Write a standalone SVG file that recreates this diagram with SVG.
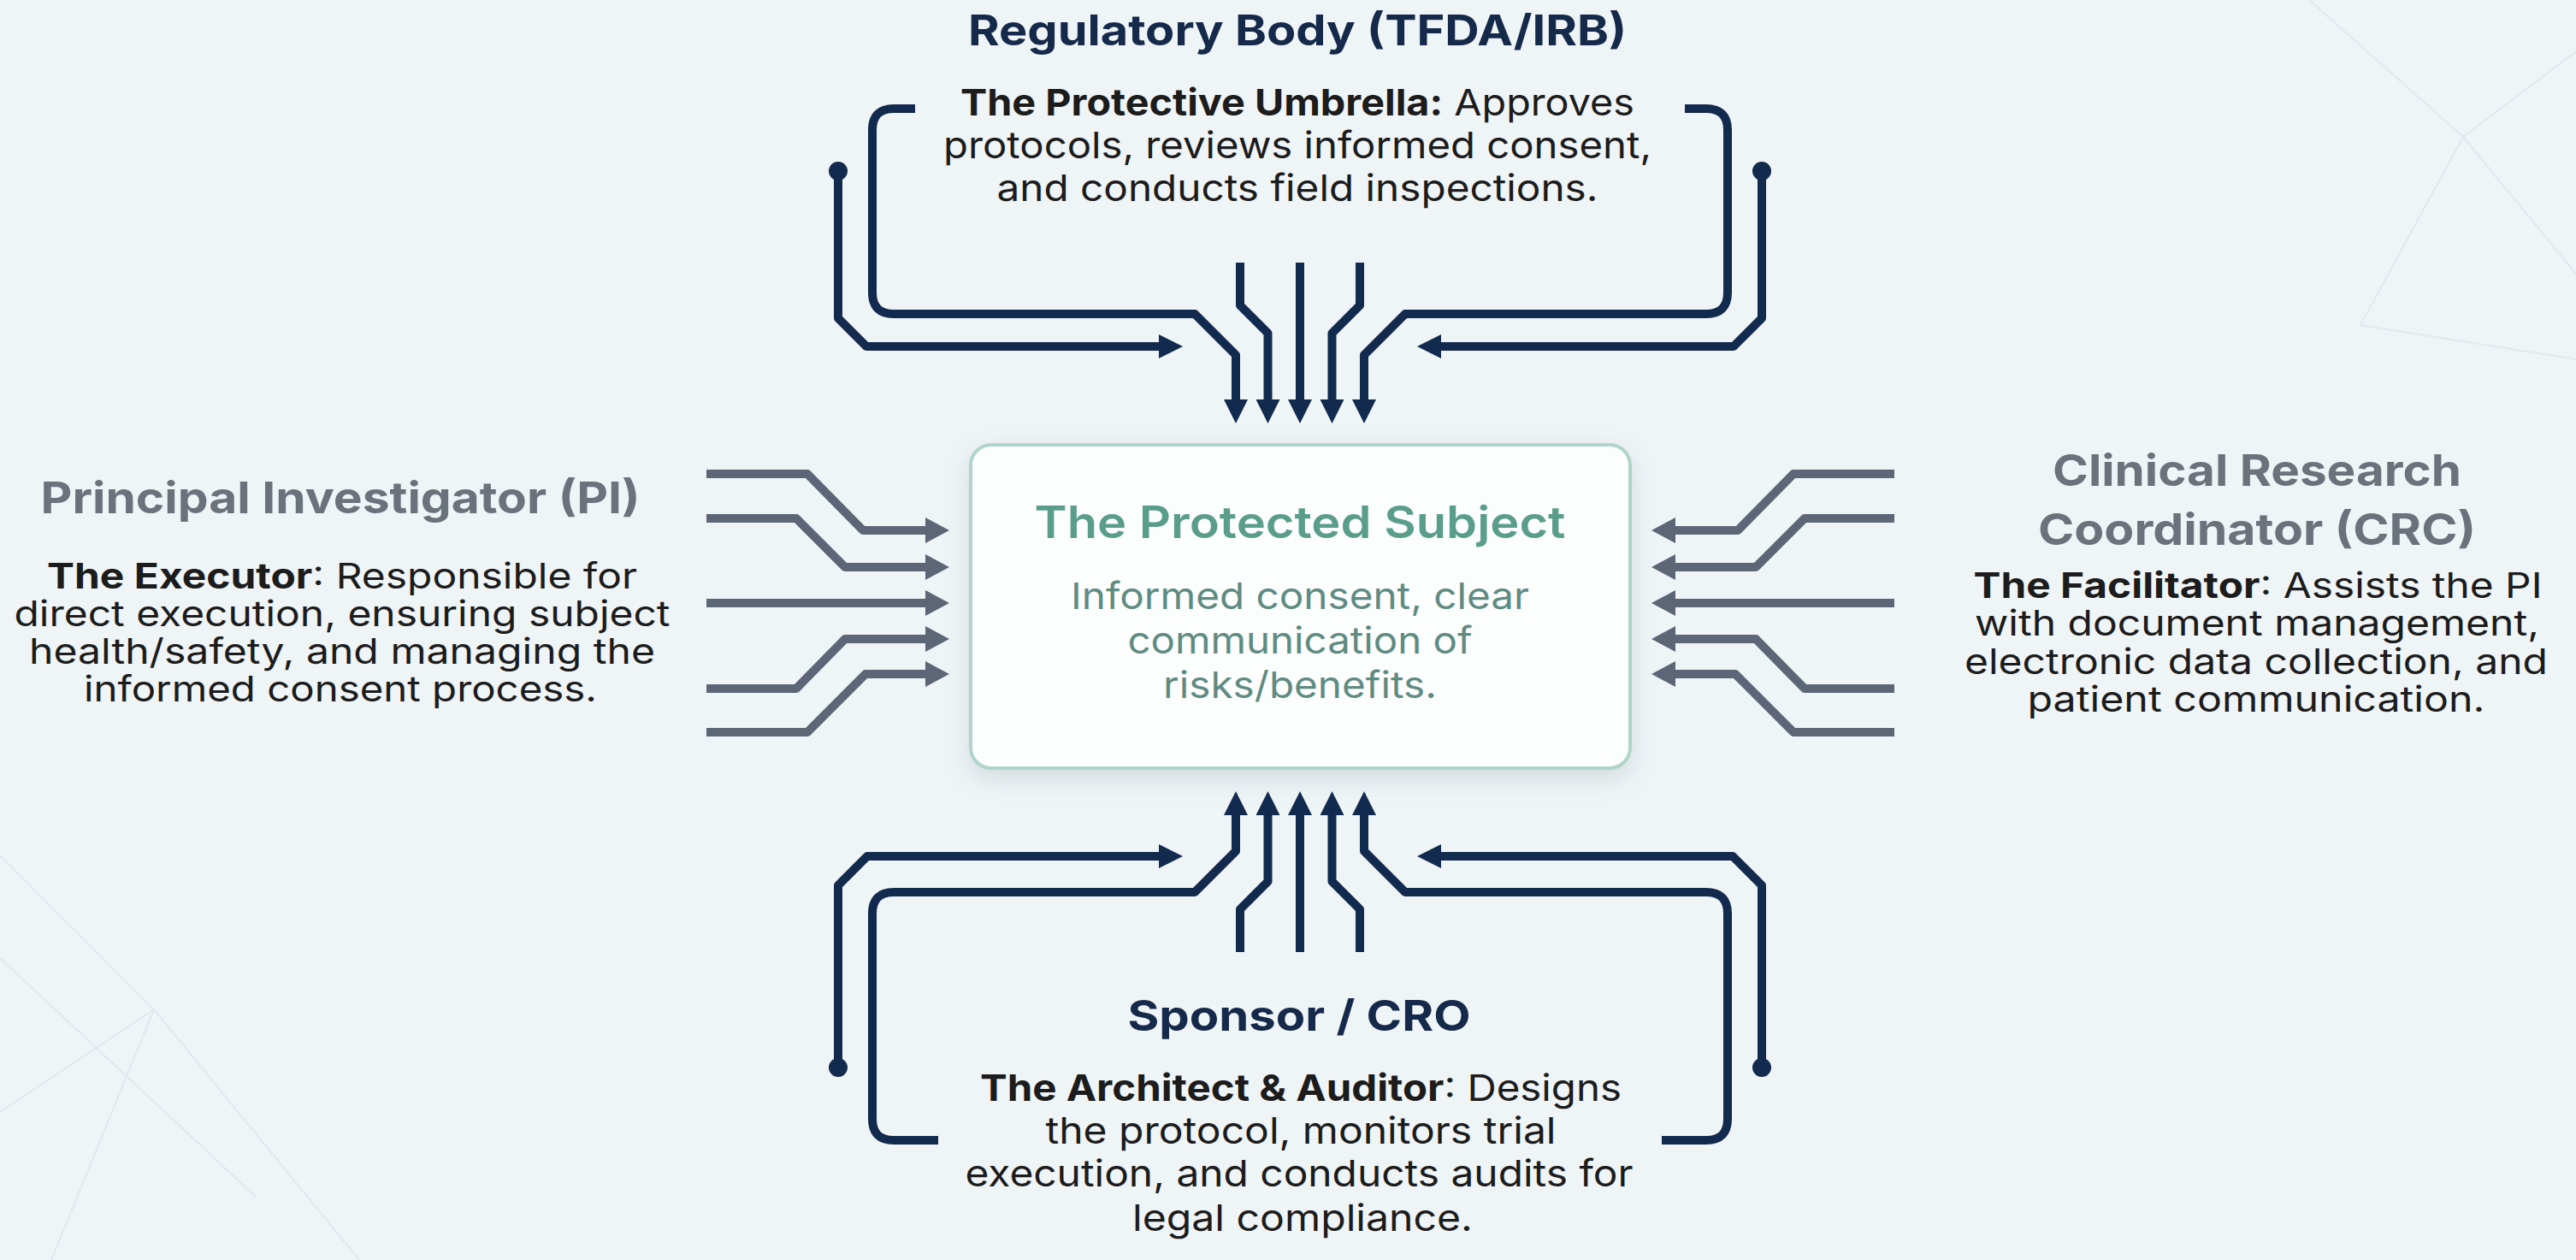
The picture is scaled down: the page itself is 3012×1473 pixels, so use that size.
<svg xmlns="http://www.w3.org/2000/svg" width="3012" height="1473" viewBox="0 0 3012 1473">
<defs>
<style>
.t{font-family:Inter,"Liberation Sans",sans-serif;text-anchor:middle}
.tn{font-weight:700;font-size:50px;fill:#15294a}
.tg{font-weight:700;font-size:51px;fill:#6a727c}
.d{font-weight:400;font-size:43px;fill:#1c1c1c}
.ds{font-weight:400;font-size:41px;fill:#1c1c1c}
.b{font-weight:700}
.bt{font-weight:600;font-size:52px;fill:#5b9d8b}
.bd{font-weight:400;font-size:43px;fill:#5f8b82}
.nv{fill:none;stroke:#122a4e;stroke-width:10;stroke-linejoin:round}
.gr{fill:none;stroke:#5c6676;stroke-width:10;stroke-linejoin:round}
.bg{fill:none;stroke:#e1e8ee;stroke-width:2}
</style>
<marker id="an" markerUnits="userSpaceOnUse" markerWidth="30" markerHeight="30" refX="1" refY="14" orient="auto" viewBox="0 0 30 28">
<path d="M0,0 L28,14 L0,28 z" fill="#122a4e"/>
</marker>
<marker id="ag" markerUnits="userSpaceOnUse" markerWidth="30" markerHeight="32" refX="1" refY="15" orient="auto" viewBox="0 0 30 30">
<path d="M0,0 L28,15 L0,30 z" fill="#5c6676"/>
</marker>
<filter id="sh" x="-20%" y="-20%" width="140%" height="150%">
<feDropShadow dx="0" dy="10" stdDeviation="14" flood-color="#7f9a9a" flood-opacity="0.28"/>
</filter>
</defs>
<rect width="3012" height="1473" fill="#eff4f7"/>
<g id="background">
<path class="bg" d="M0 1000 L180 1180 L0 1300 M180 1180 L420 1473 M180 1180 L60 1473 M0 1120 L300 1400"/>
<path class="bg" d="M2700 0 L2880 160 L3012 60 M2880 160 L3012 320 M2880 160 L2760 380 L3012 420"/>
</g>
<g id="connectors">
<!-- top -->
<path class="nv" d="M1070 127 H1045 Q1020 127 1020 152 V342 Q1020 367 1045 367 H1397 L1445 415 V468" marker-end="url(#an)"/>
<path class="nv" d="M980 200 V372 L1013 405 H1356" marker-end="url(#an)"/>
<path class="nv" d="M1450 307 V357 L1482.5 389.5 V468" marker-end="url(#an)"/>
<path class="nv" d="M1520 307 V468" marker-end="url(#an)"/>
<path class="nv" d="M1590 307 V357 L1557.5 389.5 V468" marker-end="url(#an)"/>
<path class="nv" d="M1970 127 H1995 Q2020 127 2020 152 V342 Q2020 367 1995 367 H1643 L1595 415 V468" marker-end="url(#an)"/>
<path class="nv" d="M2060 200 V372 L2027 405 H1684" marker-end="url(#an)"/>
<circle cx="980" cy="200" r="11" fill="#122a4e"/>
<circle cx="2060" cy="200" r="11" fill="#122a4e"/>
<!-- bottom -->
<path class="nv" d="M1097 1333 H1045 Q1020 1333 1020 1308 V1068 Q1020 1043 1045 1043 H1397 L1445 995 V952" marker-end="url(#an)"/>
<path class="nv" d="M980 1248 V1035 L1014 1001 H1356" marker-end="url(#an)"/>
<path class="nv" d="M1450 1113 V1063 L1482.5 1030.5 V952" marker-end="url(#an)"/>
<path class="nv" d="M1520 1113 V952" marker-end="url(#an)"/>
<path class="nv" d="M1590 1113 V1063 L1557.5 1030.5 V952" marker-end="url(#an)"/>
<path class="nv" d="M1943 1333 H1995 Q2020 1333 2020 1308 V1068 Q2020 1043 1995 1043 H1643 L1595 995 V952" marker-end="url(#an)"/>
<path class="nv" d="M2060 1248 V1035 L2026 1001 H1684" marker-end="url(#an)"/>
<circle cx="980" cy="1248" r="11" fill="#122a4e"/>
<circle cx="2060" cy="1248" r="11" fill="#122a4e"/>
<!-- left PI -->
<path class="gr" d="M826 554 H944 L1009 620 H1083" marker-end="url(#ag)"/>
<path class="gr" d="M826 606 H931 L988 663 H1083" marker-end="url(#ag)"/>
<path class="gr" d="M826 705 H1083" marker-end="url(#ag)"/>
<path class="gr" d="M826 805 H931 L988 747 H1083" marker-end="url(#ag)"/>
<path class="gr" d="M826 856 H944 L1012 788 H1083" marker-end="url(#ag)"/>
<!-- right CRC -->
<path class="gr" d="M2215 554 H2097 L2032 620 H1958" marker-end="url(#ag)"/>
<path class="gr" d="M2215 606 H2110 L2053 663 H1958" marker-end="url(#ag)"/>
<path class="gr" d="M2215 705 H1958" marker-end="url(#ag)"/>
<path class="gr" d="M2215 805 H2110 L2053 747 H1958" marker-end="url(#ag)"/>
<path class="gr" d="M2215 856 H2097 L2029 788 H1958" marker-end="url(#ag)"/>
</g>
<g id="subject">
<rect x="1135" y="520" width="771" height="378" rx="24" fill="#fcfefe" stroke="#b0d4ca" stroke-width="4" filter="url(#sh)"/>
<text class="t bt" x="1520" y="629" textLength="621" lengthAdjust="spacingAndGlyphs">The Protected Subject</text>
<text class="t bd" x="1520" y="712" textLength="536" lengthAdjust="spacingAndGlyphs">Informed consent, clear</text>
<text class="t bd" x="1520" y="764" textLength="403" lengthAdjust="spacingAndGlyphs">communication of</text>
<text class="t bd" x="1520" y="816" textLength="320" lengthAdjust="spacingAndGlyphs">risks/benefits.</text>
</g>
<g id="regulatory">
<text class="t tn" x="1517" y="53" textLength="770" lengthAdjust="spacingAndGlyphs">Regulatory Body (TFDA/IRB)</text>
<text class="t d" x="1517" y="135" textLength="788" lengthAdjust="spacingAndGlyphs"><tspan class="b">The Protective Umbrella:</tspan> Approves</text>
<text class="t d" x="1517" y="185" textLength="828" lengthAdjust="spacingAndGlyphs">protocols, reviews informed consent,</text>
<text class="t d" x="1517" y="235" textLength="703" lengthAdjust="spacingAndGlyphs">and conducts field inspections.</text>
</g>
<g id="pi">
<text class="t tg" x="398" y="600" textLength="701" lengthAdjust="spacingAndGlyphs">Principal Investigator (PI)</text>
<text class="t ds" x="400" y="688" textLength="690" lengthAdjust="spacingAndGlyphs"><tspan class="b">The Executor</tspan>: Responsible for</text>
<text class="t ds" x="400" y="732" textLength="767" lengthAdjust="spacingAndGlyphs">direct execution, ensuring subject</text>
<text class="t ds" x="400" y="776" textLength="732" lengthAdjust="spacingAndGlyphs">health/safety, and managing the</text>
<text class="t ds" x="398" y="820" textLength="600" lengthAdjust="spacingAndGlyphs">informed consent process.</text>
</g>
<g id="crc">
<text class="t tg" x="2639" y="568" textLength="478" lengthAdjust="spacingAndGlyphs">Clinical Research</text>
<text class="t tg" x="2639" y="637" textLength="512" lengthAdjust="spacingAndGlyphs">Coordinator (CRC)</text>
<text class="t ds" x="2640" y="699" textLength="665" lengthAdjust="spacingAndGlyphs"><tspan class="b">The Facilitator</tspan>: Assists the PI</text>
<text class="t ds" x="2639" y="743" textLength="660" lengthAdjust="spacingAndGlyphs">with document management,</text>
<text class="t ds" x="2638" y="788" textLength="682" lengthAdjust="spacingAndGlyphs">electronic data collection, and</text>
<text class="t ds" x="2638" y="832" textLength="535" lengthAdjust="spacingAndGlyphs">patient communication.</text>
</g>
<g id="sponsor">
<text class="t tn" x="1519" y="1205" textLength="401" lengthAdjust="spacingAndGlyphs">Sponsor / CRO</text>
<text class="t d" x="1521" y="1287" textLength="750" lengthAdjust="spacingAndGlyphs"><tspan class="b">The Architect &amp; Auditor</tspan>: Designs</text>
<text class="t d" x="1521" y="1337" textLength="597" lengthAdjust="spacingAndGlyphs">the protocol, monitors trial</text>
<text class="t d" x="1519" y="1387" textLength="781" lengthAdjust="spacingAndGlyphs">execution, and conducts audits for</text>
<text class="t d" x="1523" y="1439" textLength="398" lengthAdjust="spacingAndGlyphs">legal compliance.</text>
</g>
</svg>
